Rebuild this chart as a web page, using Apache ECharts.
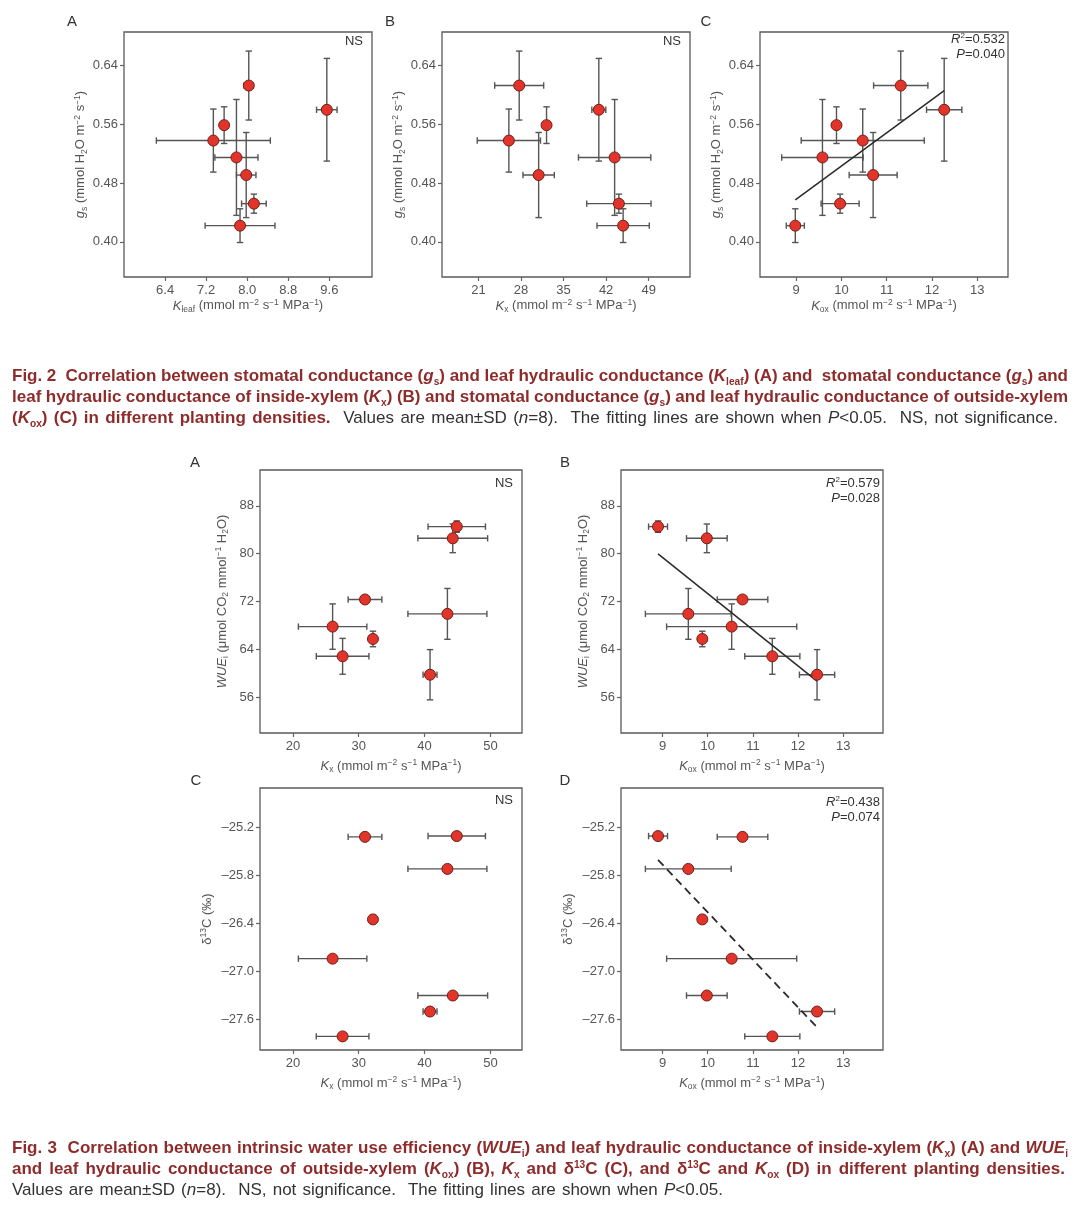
<!DOCTYPE html>
<html><head><meta charset="utf-8">
<script src="https://cdn.jsdelivr.net/npm/echarts@6/dist/echarts.min.js"></script>
<style>
html,body{margin:0;padding:0;background:#fff;width:1080px;height:1205px;overflow:hidden;font-family:'Liberation Sans',Arial,sans-serif;}
#chart{position:absolute;left:0;top:0;width:1080px;height:1205px;}
.cap{position:absolute;left:12px;width:1066px;font-size:17px;}
.ln{white-space:nowrap;height:21px;line-height:21px;}
.ln span.w{display:inline-block;}
.b{font-weight:bold;color:#8e2c2b;}
.r{color:#333;}
sub{font-size:0.6em;vertical-align:-0.35em;line-height:0;}
sup{font-size:0.6em;vertical-align:0.55em;line-height:0;}
</style></head>
<body>
<div id="chart"></div>
<div class="cap" style="top:365px">
 <div class="ln" data-w="1056"><span class="w b">Fig. 2&nbsp; Correlation between stomatal conductance (<i>g</i><sub>s</sub>) and leaf hydraulic conductance (<i>K</i><sub>leaf</sub>) (A) and&nbsp; stomatal conductance (<i>g</i><sub>s</sub>) and</span></div>
 <div class="ln" data-w="1056"><span class="w b">leaf hydraulic conductance of inside-xylem (<i>K</i><sub>x</sub>) (B) and stomatal conductance (<i>g</i><sub>s</sub>) and leaf hydraulic conductance of outside-xylem</span></div>
 <div class="ln" data-w="1046"><span class="w"><span class="b">(<i>K</i><sub>ox</sub>) (C) in different planting densities.</span><span class="r">&nbsp; Values are mean±SD (<i>n</i>=8).&nbsp; The fitting lines are shown when <i>P</i>&lt;0.05.&nbsp; NS, not significance.</span></span></div>
</div>
<div class="cap" style="top:1137px">
 <div class="ln" data-w="1056"><span class="w b">Fig. 3&nbsp; Correlation between intrinsic water use efficiency (<i>WUE</i><sub>i</sub>) and leaf hydraulic conductance of inside-xylem (<i>K</i><sub>x</sub>) (A) and <i>WUE</i><sub>i</sub></span></div>
 <div class="ln" data-w="1053"><span class="w b">and leaf hydraulic conductance of outside-xylem (<i>K</i><sub>ox</sub>) (B), <i>K</i><sub>x</sub> and δ<sup>13</sup>C (C), and δ<sup>13</sup>C and <i>K</i><sub>ox</sub> (D) in different planting densities.</span></div>
 <div class="ln" data-w="711"><span class="w r">Values are mean±SD (<i>n</i>=8).&nbsp; NS, not significance.&nbsp; The fitting lines are shown when <i>P</i>&lt;0.05.</span></div>
</div>
<script>
// ---------- Fig. 2 data (8 planting densities) ----------
const gs      = [0.613, 0.580, 0.559, 0.538, 0.515, 0.491, 0.452, 0.422];
const gsSD    = [0.047, 0.070, 0.025, 0.043, 0.079, 0.058, 0.013, 0.023];
const Kleaf   = [8.03, 9.55, 7.55, 7.34, 7.79, 7.98, 8.13, 7.86];
const KleafSD = [0.09, 0.20, 0.00, 1.11, 0.42, 0.19, 0.24, 0.68];
const Kx2     = [27.7, 40.8, 32.2, 26.0, 43.4, 30.9, 44.1, 44.8];
const Kx2SD   = [4.03, 1.15, 0.40, 5.20, 5.95, 2.58, 5.29, 4.30];
const Kox2    = [11.31, 12.27, 9.89, 10.47, 9.58, 10.70, 9.97, 8.98];
const Kox2SD  = [0.60, 0.39, 0.00, 1.36, 0.90, 0.53, 0.42, 0.20];

// ---------- Fig. 3 data (8 planting densities) ----------
const Kx3     = [44.89, 44.28, 30.95, 43.47, 26.03, 32.16, 27.55, 40.83];
const Kx3SD   = [4.36, 5.30, 2.56, 6.00, 5.20, 0.40, 4.00, 1.06];
const Kox3    = [8.90, 9.98, 10.77, 9.57, 10.53, 9.88, 11.43, 12.42];
const Kox3SD  = [0.21, 0.45, 0.56, 0.95, 1.44, 0.05, 0.61, 0.39];
const WUE     = [84.53, 82.57, 72.34, 69.93, 67.80, 65.73, 62.83, 59.75];
const WUESD   = [0.95, 2.40, 0.60, 4.25, 3.80, 1.30, 3.00, 4.20];
const d13C    = [-25.31, -27.30, -25.32, -25.72, -26.84, -26.35, -27.81, -27.50];
const d13CSD  = [0.02, 0.02, 0.02, 0.02, 0.02, 0.05, 0.02, 0.02];

// ---------- tick labels ----------
const gsTicks    = [0.40, 0.48, 0.56, 0.64];
const kleafTicks = [6.4, 7.2, 8.0, 8.8, 9.6];
const kx2Ticks   = [21, 28, 35, 42, 49];
const koxTicks   = [9, 10, 11, 12, 13];
const kx3Ticks   = [20, 30, 40, 50];
const wueTicks   = [56, 64, 72, 80, 88];
const d13cTicks  = [-27.6, -27.0, -26.4, -25.8, -25.2];

const FONT = "'Liberation Sans', Arial, sans-serif";
const richBase = {
  n:   {fontSize: 13, lineHeight: 16, fontFamily: FONT, color: '#555'},
  i:   {fontSize: 13, lineHeight: 16, fontFamily: FONT, color: '#555', fontStyle: 'italic'},
  sub: {fontSize: 8.5, lineHeight: 8, verticalAlign: 'bottom', fontFamily: FONT, color: '#555'},
  sup: {fontSize: 8.5, lineHeight: 8, verticalAlign: 'top', fontFamily: FONT, color: '#555'}
};
const gsName   = '{i|g}{sub|s}{n| (mmol H}{sub|2}{n|O m}{sup|−2}{n| s}{sup|−1}{n|)}';
const unitTail = '{n| (mmol m}{sup|−2}{n| s}{sup|−1}{n| MPa}{sup|−1}{n|)}';
const wueName  = '{i|WUE}{sub|i}{n| (μmol CO}{sub|2}{n| mmol}{sup|−1}{n| H}{sub|2}{n|O)}';
const d13cName = '{n|δ}{sup|13}{n|C (‰)}';

const panels = [
  {grid:{left:124,top:32,width:248,height:245}, x:Kleaf, xsd:KleafSD, y:gs, ysd:gsSD, xr:[5.6,10.43], yr:[0.352,0.686], xt:kleafTicks, yt:gsTicks, xd:1, yd:2,
   xname:'{i|K}{sub|leaf}'+unitTail, yname:gsName, xgap:18, ygap:34, fit:null, letter:'A', lx:72, ly:22, note:'NS', ny:9},
  {grid:{left:442,top:32,width:248,height:245}, x:Kx2, xsd:Kx2SD, y:gs, ysd:gsSD, xr:[15,55.8], yr:[0.352,0.686], xt:kx2Ticks, yt:gsTicks, xd:0, yd:2,
   xname:'{i|K}{sub|x}'+unitTail, yname:gsName, xgap:18, ygap:34, fit:null, letter:'B', lx:390, ly:22, note:'NS', ny:9},
  {grid:{left:760,top:32,width:248,height:245}, x:Kox2, xsd:Kox2SD, y:gs, ysd:gsSD, xr:[8.2,13.68], yr:[0.352,0.686], xt:koxTicks, yt:gsTicks, xd:0, yd:2,
   xname:'{i|K}{sub|ox}'+unitTail, yname:gsName, xgap:18, ygap:34, fit:'solid', letter:'C', lx:706, ly:22, r2:'0.532', p:'0.040', ry:7},
  {grid:{left:260,top:470,width:262,height:263}, x:Kx3, xsd:Kx3SD, y:WUE, ysd:WUESD, xr:[15,54.8], yr:[50,94], xt:kx3Ticks, yt:wueTicks, xd:0, yd:0,
   xname:'{i|K}{sub|x}'+unitTail, yname:wueName, xgap:25, ygap:30, fit:null, letter:'A', lx:195, ly:463, note:'NS', ny:13},
  {grid:{left:621,top:470,width:262,height:263}, x:Kox3, xsd:Kox3SD, y:WUE, ysd:WUESD, xr:[8.08,13.88], yr:[50,94], xt:koxTicks, yt:wueTicks, xd:0, yd:0,
   xname:'{i|K}{sub|ox}'+unitTail, yname:wueName, xgap:25, ygap:30, fit:'solid', letter:'B', lx:565, ly:463, r2:'0.579', p:'0.028', ry:13},
  {grid:{left:260,top:788,width:262,height:262}, x:Kx3, xsd:Kx3SD, y:d13C, ysd:d13CSD, xr:[15,54.8], yr:[-27.98,-24.71], xt:kx3Ticks, yt:d13cTicks, xd:0, yd:1,
   xname:'{i|K}{sub|x}'+unitTail, yname:d13cName, xgap:25, ygap:45, fit:null, letter:'C', lx:196, ly:781, note:'NS', ny:12},
  {grid:{left:621,top:788,width:262,height:262}, x:Kox3, xsd:Kox3SD, y:d13C, ysd:d13CSD, xr:[8.08,13.88], yr:[-27.98,-24.71], xt:koxTicks, yt:d13cTicks, xd:0, yd:1,
   xname:'{i|K}{sub|ox}'+unitTail, yname:d13cName, xgap:25, ygap:45, fit:'dashed', letter:'D', lx:565, ly:781, r2:'0.438', p:'0.074', ry:14}
];

function fmt(d){ return v => { const s = Math.abs(v).toFixed(d); return v < 0 ? '–' + s : s; }; }
function fitLine(xs, ys){
  const n = xs.length;
  const mx = xs.reduce((a,b)=>a+b,0)/n, my = ys.reduce((a,b)=>a+b,0)/n;
  let sxy = 0, sxx = 0;
  for (let k=0;k<n;k++){ sxy += (xs[k]-mx)*(ys[k]-my); sxx += (xs[k]-mx)*(xs[k]-mx); }
  const b = sxy/sxx, a = my - b*mx;
  const x0 = Math.min(...xs), x1 = Math.max(...xs);
  return [[x0, a+b*x0], [x1, a+b*x1]];
}
function renderErr(params, api){
  const x = api.value(0), y = api.value(1), ex = api.value(2), ey = api.value(3);
  const c = api.coord([x, y]);
  const st = {stroke:'#555', lineWidth:1.4};
  const cap = 3.2;
  const ch = [];
  if (ex > 0){
    const l = api.coord([x-ex, y])[0], r = api.coord([x+ex, y])[0];
    ch.push({type:'line', shape:{x1:l,y1:c[1],x2:r,y2:c[1]}, style:st});
    ch.push({type:'line', shape:{x1:l,y1:c[1]-cap,x2:l,y2:c[1]+cap}, style:st});
    ch.push({type:'line', shape:{x1:r,y1:c[1]-cap,x2:r,y2:c[1]+cap}, style:st});
  }
  if (ey > 0){
    const t = api.coord([x, y+ey])[1], b = api.coord([x, y-ey])[1];
    ch.push({type:'line', shape:{x1:c[0],y1:t,x2:c[0],y2:b}, style:st});
    ch.push({type:'line', shape:{x1:c[0]-cap,y1:t,x2:c[0]+cap,y2:t}, style:st});
    ch.push({type:'line', shape:{x1:c[0]-cap,y1:b,x2:c[0]+cap,y2:b}, style:st});
  }
  return {type:'group', children:ch};
}

const grids = [], xAxes = [], yAxes = [], series = [], graphics = [];
panels.forEach((p, k) => {
  grids.push(Object.assign({show:true, borderColor:'#5a5a5a', borderWidth:1.3, containLabel:false}, p.grid));
  const common = {
    gridIndex:k, type:'value', splitLine:{show:false},
    axisLine:{show:false, onZero:false},
    axisTick:{show:true, inside:false, length:4, lineStyle:{color:'#666', width:1.2}},
    nameLocation:'middle'
  };
  xAxes.push(Object.assign({}, common, {
    min:p.xr[0], max:p.xr[1],
    axisTick:Object.assign({}, common.axisTick, {customValues:p.xt}),
    axisLabel:{customValues:p.xt, formatter:fmt(p.xd), color:'#555', fontSize:13, fontFamily:FONT, margin:7},
    name:p.xname, nameGap:p.xgap, nameTextStyle:{rich:richBase}
  }));
  yAxes.push(Object.assign({}, common, {
    min:p.yr[0], max:p.yr[1],
    axisTick:Object.assign({}, common.axisTick, {customValues:p.yt}),
    axisLabel:{customValues:p.yt, formatter:fmt(p.yd), color:'#555', fontSize:13, fontFamily:FONT, margin:6},
    name:p.yname, nameGap:p.ygap, nameRotate:90, nameTextStyle:{rich:richBase}
  }));
  series.push({
    type:'custom', xAxisIndex:k, yAxisIndex:k, renderItem:renderErr, z:2, clip:false,
    encode:{x:0, y:1},
    data:p.x.map((v,j)=>[v, p.y[j], p.xsd[j], p.ysd[j]])
  });
  if (p.fit){
    series.push({
      type:'line', xAxisIndex:k, yAxisIndex:k, z:3, symbol:'none', silent:true,
      lineStyle:{color:'#2a2a2a', width:p.fit==='dashed'?1.8:1.5, type:p.fit==='dashed'?[8,5]:'solid'},
      data:fitLine(p.x, p.y)
    });
  }
  series.push({
    type:'scatter', xAxisIndex:k, yAxisIndex:k, z:4, symbolSize:11,
    itemStyle:{color:'#e2342a', borderColor:'#6e2218', borderWidth:1, opacity:1},
    data:p.x.map((v,j)=>[v, p.y[j]])
  });
  const g = p.grid;
  graphics.push({type:'text', x:p.lx, y:p.ly, style:{text:p.letter, font:'15px '+FONT, fill:'#333', align:'center', verticalAlign:'middle'}});
  if (p.note){
    graphics.push({type:'text', x:g.left+g.width-9, y:g.top+p.ny, style:{text:p.note, font:'13px '+FONT, fill:'#333', align:'right', verticalAlign:'middle'}});
  }
  if (p.r2){
    const rr = {
      i:{fontSize:13, fontFamily:FONT, fill:'#333', fontStyle:'italic', lineHeight:15},
      n:{fontSize:13, fontFamily:FONT, fill:'#333', lineHeight:15},
      sup:{fontSize:8, fontFamily:FONT, fill:'#333', lineHeight:8, verticalAlign:'top'}
    };
    graphics.push({type:'text', x:g.left+g.width-3, y:g.top+p.ry, style:{text:'{i|R}{sup|2}{n|=' + p.r2 + '}', rich:rr, align:'right', verticalAlign:'middle'}});
    graphics.push({type:'text', x:g.left+g.width-3, y:g.top+p.ry+15, style:{text:'{i|P}{n|=' + p.p + '}', rich:rr, align:'right', verticalAlign:'middle'}});
  }
});

const chart = echarts.init(document.getElementById('chart'), null, {renderer:'canvas'});
chart.setOption({
  animation:false,
  backgroundColor:'#fff',
  grid:grids, xAxis:xAxes, yAxis:yAxes, series:series, graphic:graphics
});

// justify caption lines to their measured widths
document.querySelectorAll('.ln').forEach(ln => {
  const w = ln.querySelector('.w');
  const target = +ln.dataset.w;
  const natural = w.getBoundingClientRect().width;
  const spaces = (w.textContent.match(/[ \u00a0]/g) || []).length;
  if (spaces > 0) w.style.wordSpacing = ((target - natural) / spaces) + 'px';
});
</script>
</body></html>
